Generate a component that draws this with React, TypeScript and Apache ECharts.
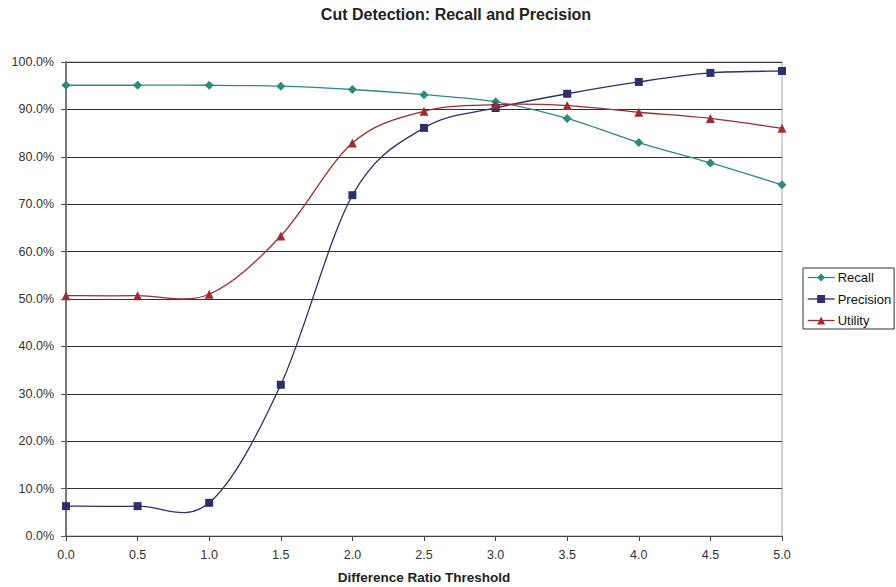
import React, { useEffect, useRef } from "react";
import * as echarts from "echarts";

const thresholds = [0, 0.5, 1.0, 1.5, 2.0, 2.5, 3.0, 3.5, 4.0, 4.5, 5.0];
const recall = [95.1, 95.1, 95.1, 94.9, 94.2, 93.1, 91.6, 88.1, 83.0, 78.7, 74.1];
const precision = [6.3, 6.3, 7.0, 31.9, 71.9, 86.1, 90.3, 93.3, 95.8, 97.7, 98.1];
const utility = [50.7, 50.7, 51.0, 63.3, 82.9, 89.6, 91.0, 90.8, 89.4, 88.1, 86.0];

const FONT = "'Liberation Sans', Arial, sans-serif";

function pairs(vals: number[]) {
  return thresholds.map((t, i) => [t, vals[i]]);
}

export default function App() {
  const ref = useRef<HTMLDivElement>(null);
  useEffect(() => {
    if (!ref.current) return;
    const chart = echarts.init(ref.current, undefined, { renderer: "svg" });
    const markers = (name: string, vals: number[], color: string, symbol: string, size: number) => ({
      name,
      type: "line",
      data: pairs(vals),
      symbol,
      symbolSize: size,
      itemStyle: { color },
      lineStyle: { color, width: 0, opacity: 0 },
      z: 4,
    });
    const curve = (name: string, vals: number[], color: string) => ({
      name: name + " curve",
      type: "custom",
      data: pairs(vals),
      z: 3,
      silent: true,
      renderItem: (params: any, api: any) => {
        const i = params.dataIndex;
        const n = vals.length;
        if (i >= n - 1) return null;
        const p = (k: number) => {
          const kk = Math.max(0, Math.min(n - 1, k));
          return api.coord([thresholds[kk], vals[kk]]);
        };
        const p0 = p(i - 1), p1 = p(i), p2 = p(i + 1), p3 = p(i + 2);
        return {
          type: "bezierCurve",
          shape: {
            x1: p1[0], y1: p1[1],
            cpx1: p1[0] + (p2[0] - p0[0]) / 6,
            cpy1: p1[1] + (p2[1] - p0[1]) / 6,
            cpx2: p2[0] - (p3[0] - p1[0]) / 6,
            cpy2: p2[1] - (p3[1] - p1[1]) / 6,
            x2: p2[0], y2: p2[1],
          },
          style: { stroke: color, lineWidth: 1.3, fill: null },
        };
      },
    });
    const legendItem = (name: string, color: string) => ({
      name,
      lineStyle: { color, width: 1.3, opacity: 1 },
    });
    chart.setOption({
      animation: false,
      backgroundColor: "#fff",
      textStyle: { fontFamily: FONT },
      title: {
        text: "Cut Detection: Recall and Precision",
        left: 451,
        textAlign: "center",
        top: 1,
        textStyle: { fontSize: 16, fontWeight: "bold", color: "#222", fontFamily: FONT },
      },
      grid: {
        left: 66,
        right: 114,
        top: 62,
        bottom: 51,
        show: true,
        borderColor: "#a8a0a0",
        borderWidth: 1,
        containLabel: false,
        outerBoundsMode: "none",
      },
      legend: {
        orient: "vertical",
        left: 803,
        top: 268,
        padding: [3, 3, 2, 4],
        itemWidth: 27,
        itemHeight: 10,
        itemGap: 8.5,
        borderColor: "#333",
        borderWidth: 1,
        textStyle: { fontSize: 13, color: "#111", fontFamily: FONT, padding: [0, 0, 0, -2] },
        data: [
          legendItem("Recall", "#2e8b7b"),
          legendItem("Precision", "#2f2f6b"),
          legendItem("Utility", "#9b2d33"),
        ],
      },
      xAxis: {
        type: "value",
        min: 0,
        max: 5,
        interval: 0.5,
        name: "Difference Ratio Threshold",
        nameLocation: "middle",
        nameGap: 34,
        nameTextStyle: { fontSize: 13.5, fontWeight: "bold", color: "#222", fontFamily: FONT },
        axisLine: { show: true, onZero: false, lineStyle: { color: "#444", width: 1 } },
        axisTick: { show: true, length: 5, lineStyle: { color: "#444" } },
        axisLabel: {
          fontSize: 12.5,
          color: "#333",
          margin: 12,
          fontFamily: FONT,
          formatter: (v: number) => v.toFixed(1),
        },
        splitLine: { show: false },
      },
      yAxis: {
        type: "value",
        min: 0,
        max: 100,
        interval: 10,
        axisLine: { show: true, lineStyle: { color: "#777", width: 2 } },
        axisTick: { show: true, length: 5, lineStyle: { color: "#555" } },
        axisLabel: {
          fontSize: 12.5,
          color: "#333",
          margin: 12,
          fontFamily: FONT,
          formatter: (v: number) => v.toFixed(1) + "%",
        },
        splitLine: { show: true, lineStyle: { color: "#333", width: 1 } },
      },
      series: [
        curve("Recall", recall, "#2e8b7b"),
        curve("Precision", precision, "#2f2f6b"),
        curve("Utility", utility, "#9b2d33"),
        markers("Recall", recall, "#2e8b7b", "diamond", 9),
        markers("Precision", precision, "#2f2f6b", "rect", 8),
        markers("Utility", utility, "#9b2d33", "triangle", 9),
      ],
    });
    return () => chart.dispose();
  }, []);
  return <div ref={ref} style={{ width: 896, height: 587, position: "absolute", left: 0, top: 0 }} />;
}
